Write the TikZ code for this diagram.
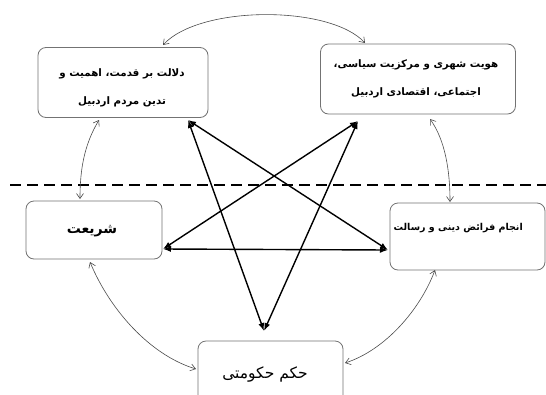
\documentclass[tikz,border=0pt]{standalone}
\usepackage{fontspec}
\newfontfamily\arabicfont[Script=Arabic]{DejaVu Sans}
\TeXXeTstate=1
\usetikzlibrary{arrows.meta}
\begin{document}
\begin{tikzpicture}[x=1pt,y=-1pt,
  box/.style={draw=black!55, line width=0.8pt, rounded corners=8pt, fill=white, inner sep=0pt},
  txt/.style={font=\arabicfont\bfseries\fontsize{10.3}{27.5}\selectfont, align=center, inner sep=0pt},
  star/.style={line width=1.4pt, black, {Latex[length=8pt,width=6pt]}-{Latex[length=8pt,width=6pt]}},
  thin/.style={line width=0.6pt, black!70, {Straight Barb[length=5pt,width=7pt]}-{Straight Barb[length=5pt,width=7pt]}}]
\useasboundingbox (0,0) rectangle (546,394);
\fill[white] (0,0) rectangle (546,394);
\begin{scope}
\clip (0,0) rectangle (546,394);
% boxes
\node[box, minimum width=170pt, minimum height=70pt] (b1) at (123,82.5) {};
\node[box, minimum width=195pt, minimum height=70pt] (b2) at (418,79) {};
\node[box, minimum width=136pt, minimum height=58pt] (b3) at (94,230) {};
\node[box, minimum width=155pt, minimum height=67pt] (b4) at (467.5,236.5) {};
\node[box, minimum width=145pt, minimum height=70pt] (b5) at (270.5,376) {};
\end{scope}
% texts
\node[txt] (t1) at (122,88) {{\beginR دلالت بر قدمت، اهمیت و\endR}\\{\beginR تدین مردم اردبیل\endR}};
\node[txt] (t2) at (416,79) {{\beginR هویت شهری و مرکزیت سیاسی،\endR}\\{\beginR اجتماعی، اقتصادی اردبیل\endR}};
\node[txt, font=\arabicfont\bfseries\fontsize{14}{17}\selectfont] (t3) at (92,231) {\beginR شریعت\endR};
\node[txt, anchor=east, font=\arabicfont\bfseries\fontsize{9.5}{12}\selectfont] (t4) at (523,228) {\beginR انجام فرائض دینی و رسالت\endR};
\node[txt, font=\arabicfont\fontsize{15.5}{18}\selectfont] (t5) at (265,374) {\beginR حکم حکومتی\endR};
% dashed separator
\coordinate (dl) at (10,185);
\coordinate (dr) at (546,185);
\draw[line width=1.8pt, dash pattern=on 11pt off 6pt] (dl) -- (dr);
% star ports
\coordinate (p1) at (188,120);
\coordinate (p2) at (358,121);
\coordinate (p3) at (163,249);
\coordinate (p4) at (388,250);
\coordinate (p5) at (264,331);
\draw[star] (p1) -- (p5);
\draw[star] (p1) -- (p4);
\draw[star] (p2) -- (p5);
\draw[star] (p2) -- (p3);
\draw[star] (p3) -- (p4);
% thin curved arrows between neighbours
\coordinate (c1t) at (163,45);
\coordinate (c2t) at (365,43);
\coordinate (c1b) at (99,120);
\coordinate (c3t) at (80,199);
\coordinate (c2b) at (430,119);
\coordinate (c4t) at (450,202);
\coordinate (c3b) at (90,262);
\coordinate (c5l) at (196,369);
\coordinate (c4b) at (435,270);
\coordinate (c5r) at (345,363);
\draw[thin] (c1t) .. controls (200,5) and (330,5) .. (c2t);
\draw[thin] (c1b) .. controls (84,145) and (80,170) .. (c3t);
\draw[thin] (c2b) .. controls (445,140) and (450,170) .. (c4t);
\draw[thin] (c3b) .. controls (110,310) and (150,355) .. (c5l);
\draw[thin] (c4b) .. controls (420,310) and (385,350) .. (c5r);
\end{tikzpicture}
\end{document}
